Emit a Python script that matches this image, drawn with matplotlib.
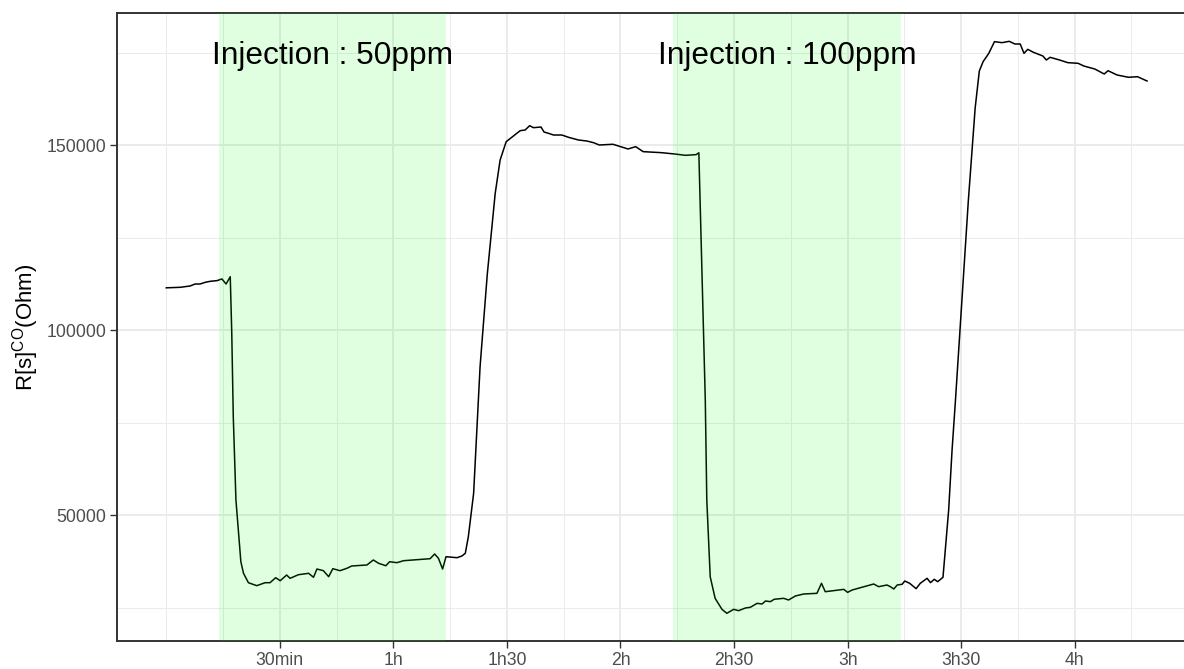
import numpy as np
import matplotlib
matplotlib.use("Agg")
import matplotlib.pyplot as plt

plt.rcParams["font.family"] = ["Liberation Sans", "DejaVu Sans"]

# time in minutes since start, resistance in Ohm
time_min = [
    0, 3.7, 6.3, 7.6, 8.9, 10.3, 11.6, 13.4, 14.7, 15.8, 16.9,
    17.3, 17.7, 18.4, 19.1, 19.7, 20.4, 21.7, 23.9, 26.1, 27.4, 28.9,
    30.1, 31.8, 32.7, 34.9, 37.6, 38.9, 39.8, 41.5, 42.9, 44.0, 45.9,
    47.7, 49.0, 53.0, 54.7, 56.1, 58.0, 59.0, 60.9, 62.7, 65.3, 69.7,
    70.9, 71.9, 73.0, 73.9, 76.8, 78.1, 79.0, 79.8, 81.2, 82.9, 84.8,
    86.9, 88.2, 89.8, 91.7, 93.5, 94.8, 96.0, 97.0, 99.0, 99.8, 101.0,
    102.3, 104.5, 106.3, 108.9, 111.1, 112.9, 114.4, 118.0, 122.0, 124.0,
    126.0, 130.8, 134.3, 137.2, 140.0, 140.7,
    142.4, 142.8, 143.7, 145.0, 146.8, 148.1, 149.9, 151.2, 153.0, 154.3,
    156.1, 157.4, 158.3, 159.6, 160.6, 163.1, 164.4, 166.2, 168.4, 171.9,
    173.1, 174.1, 179.0, 180.0, 181.2, 183.4, 185.1, 186.9, 188.2, 190.4,
    191.3, 192.2, 193.1, 194.4, 195.1, 196.4, 198.1, 199.2, 201.0, 201.9,
    202.9, 203.8, 205.2, 205.8, 206.7, 207.6, 208.5, 210.2, 211.9, 213.7,
    214.8, 215.8, 217.3, 218.8, 220.8, 222.7, 224.2, 225.6, 226.6, 227.6,
    229.1, 231.6, 232.5, 233.5, 236.0, 238.2, 240.9, 242.4, 245.3, 247.8,
    248.8, 251.2, 254.2, 256.6, 259.1,
]
resistance = [
    111400, 111540, 111900, 112430, 112430, 112890, 113160, 113340, 113800, 112430, 114400,
    99110, 76570, 54060, 45050, 37380, 34240, 31700, 30900, 31700, 31700, 33050,
    32240, 33780, 32880, 33860, 34240, 33160, 35400, 34950, 33330, 35490, 34950,
    35590, 36220, 36490, 37840, 36940, 36290, 37380, 37110, 37650, 37840, 38190,
    39460, 38300, 35400, 38730, 38460, 38920, 39650, 44130, 55870, 90080, 115000,
    136940, 145950, 150900, 152430, 153870, 154050, 155220, 154680, 154860, 153510, 153150,
    152700, 152700, 152070, 151350, 151080, 150620, 150000, 150200, 148920, 149550,
    148200, 147930, 147570, 147210, 147400, 147900,
    81080, 54050, 33330, 27480, 24510, 23430, 24510, 24140, 24870, 25050,
    26130, 25940, 26760, 26580, 27220, 27480, 27030, 28110, 28650, 28830,
    31540, 29270, 29900, 29090, 29730, 30350, 30810, 31350, 30630, 31080,
    30630, 30000, 31080, 31270, 32160, 31540, 30090, 31540, 32890, 31720,
    32620, 31980, 33160, 40540, 51350, 67570, 81080, 108000, 135000, 160000,
    170000, 172530, 174770, 177930, 177660, 178020, 177300, 177300, 174770, 175860,
    175050, 174050, 172970, 173700, 172970, 172250, 172080, 171350, 170540, 169190,
    170080, 168920, 168300, 168460, 167300,
]

# injection windows (minutes)
inj_start = [14, 134]
inj_end = [74, 194]
inj_labels = ["Injection : 50ppm", "Injection : 100ppm"]

x_breaks = [30, 60, 90, 120, 150, 180, 210, 240]
x_labels = ["30min", "1h", "1h30", "2h", "2h30", "3h", "3h30", "4h"]
x_minor = [0, 15, 45, 75, 105, 135, 165, 195, 225, 255]
y_breaks = [50000, 100000, 150000]
y_minor = [25000, 75000, 125000, 175000]

grid_col = "#EBEBEB"
dark = "#333333"

fig = plt.figure(figsize=(11.84, 6.69), dpi=100)
ax = fig.add_axes([116.7 / 1184, 28 / 669, 1 - 116.7 / 1184 + 0.002, (641 - 12.7) / 669])

for t in x_minor:
    ax.axvline(t, color=grid_col, lw=0.7, zorder=0)
for t in x_breaks:
    ax.axvline(t, color=grid_col, lw=1.4, zorder=0)
for v in y_minor:
    ax.axhline(v, color=grid_col, lw=0.7, zorder=0)
for v in y_breaks:
    ax.axhline(v, color=grid_col, lw=1.4, zorder=0)

ax.plot(time_min, resistance, color="black", lw=1.1, zorder=2)

for s, e, lab in zip(inj_start, inj_end, inj_labels):
    ax.axvspan(s, e, facecolor=(0, 1, 0), alpha=0.12, lw=0, zorder=3)
    ax.text((s + e) / 2, 174000, lab, ha="center", va="center", fontsize=22.8, color="black", zorder=4)

ax.set_xlim(-13.1, 269.5)
ax.set_ylim(15946, 185757)
ax.set_xticks(x_breaks)
ax.set_xticklabels(x_labels)
ax.set_yticks(y_breaks)
ax.set_yticklabels([str(v) for v in y_breaks])
ax.tick_params(axis="both", length=4.7, width=1.0, color=dark, labelcolor="#4D4D4D",
               labelsize=12.7, pad=2.9)

for side, sp in ax.spines.items():
    sp.set_color(dark)
    sp.set_linewidth(1.4)
ax.spines["right"].set_visible(False)

ax.set_ylabel(r"R[s]$^{\mathregular{CO}}$(Ohm)", fontsize=16, color="black", labelpad=4)

fig.savefig("out.png", dpi=100)
